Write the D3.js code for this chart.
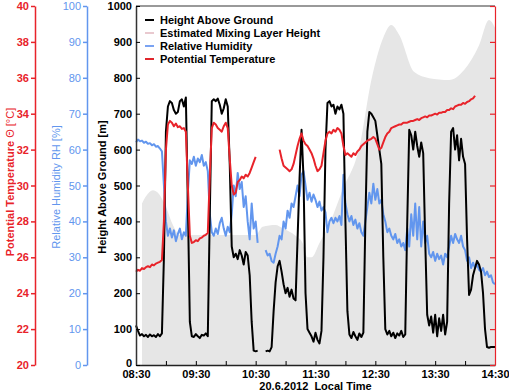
<!DOCTYPE html>
<html>
<head>
<meta charset="utf-8">
<script src="https://cdn.jsdelivr.net/npm/d3@7"></script>
<style>
body { margin: 0; background: #fff; }
text { font-family: "Liberation Sans", Arial, sans-serif; }
</style>
</head>
<body>
<svg id="chart"></svg>
<script>
// minutes after 08:30, one sample every 2 minutes
var stepMinutes = 2;

var heightAboveGround = [
    110, 95, 82, 86, 80, 84, 78, 85, 80, 83, 78, 86, 80, 88,
    300, 650, 720, 735, 730, 710, 700, 705, 735, 740, 720, 745,
    450, 120, 80, 78, 86, 80, 75, 84, 82, 88, 80,
    420, 735, 740, 735, 742, 725, 700, 715, 740, 720,
    560, 330, 300, 310, 295, 320, 305, 280, 315, 305,
    250, 120, 40, 38, 40, null, null, null, 38, 40, 38,
    50, 150, 230, 275, 290, 260, 225, 200, 215, 190, 210, 185, 180,
    350, 520, 655, 520, 200, 100,
    90, 80, 65, 90, 70, 60, 95,
    300, 600, 730, 735, 720, 725, 700, 720, 712, 725, 700,
    400, 150, 85, 75, 92, 80, 70, 88, 78, 90,
    400, 650, 705, 700, 690, 680, 640, 600, 560,
    300, 100, 85, 95, 80, 90, 75, 88, 82, 95, 78, 85,
    400, 655, 640, 600, 650, 610, 580, 620, 590,
    350, 140, 110, 135, 90, 140, 80, 130, 95, 140, 85, 120,
    450, 650, 660, 600, 640, 570, 630, 580, 560,
    350, 195, 210, 250, 270, 290, 280, 260,
    200, 100, 50, 48, 50, 50, 50
];

var relHumidity = [
    62, 62.8, 62.3, 62.5, 61.9, 62.2, 61.6, 61.8, 61.2, 61.5, 60.8, 61, 60.3, 59.5,
    50, 40, 36, 38, 35.5, 37.5, 34.5, 36.5, 38, 35, 37, 36,
    48, 57, 56, 58, 55.5, 57.5, 56.5, 58.5, 55.5, 56.5, 54,
    42, 37, 36, 38, 36.5, 39.5, 41, 38, 36, 38.5,
    37, 42, 50, 47, 53.5, 49, 51, 44, 47, 40,
    35, 45, 38, 40, 34, null, null, null, 32, 30.5, 31,
    29, 28.5, 31, 33, 36, 35, 40, 38, 43, 41, 45, 44, 47,
    50, 47, 53, 54, 50, 46,
    48, 45.5, 47.5, 46, 44, 45.5, 43,
    44, 42.5, 37, 40, 41, 39.5, 41, 40, 41.5, 39, 53,
    45, 42, 40, 41.5, 39, 40.5, 38, 39.5, 37, 36,
    40, 44, 48, 45, 50.5, 46, 49, 45, 46,
    42, 40, 37, 38, 36, 35, 36.5, 34, 35, 33, 34, 32,
    38, 33, 42, 36, 45, 35, 44, 33, 40,
    34, 36, 31, 30, 31.5, 29, 31, 29.5, 30.5, 28, 31, 30,
    33, 36, 34, 36.5, 35, 34, 36, 33, 32,
    29, 30, 27, 28.5, 27, 28, 26.5, 26,
    27, 25, 26, 24.5, 25, 23, 22.5
];

var potTemperature = [
    25.2, 25.3, 25.25, 25.4, 25.35, 25.45, 25.5, 25.45, 25.6, 25.55, 25.65, 25.7, 25.75, 25.85,
    28, 32, 33.4, 33.6, 33.5, 33.3, 33.45, 33.25, 33.3, 33.15, 33.2, 33.0,
    30, 27.2, 26.8, 26.85, 26.95, 26.9, 27.05, 27.1, 27.2, 27.25, 27.35,
    30.5, 33.2, 33.5, 33.4, 33.2, 33.1, 33.0, 33.3, 33.5, 33.2,
    31.5, 30, 29.5, 29.6, 30.2, 30.3, 30.5, 30.4, 30.6, 30.5,
    30.7, 31, 31.3, 31.6, null, null, null, null, null, null, null,
    null, null, null, null, 32, 31.5, 31.1, 31.0, 30.9, 30.8, 30.9, 31.2, 31.7,
    32.2, 32.6, 32.9, 32.5, 32.3, 32.2,
    32.0, 31.8, 31.5, 31.1, 30.8, 30.9, 31.1,
    31.8, 32.5, 32.9, 33.0, 32.9, 33.1, 33.0, 33.2, 33.1, 32.9, 32.2,
    31.7, 31.8, 31.7, 31.6, 31.8, 31.7, 31.9, 32.0, 32.2, 32.3,
    32.4, 32.5, 32.55, 32.6, 32.7, 32.6, 32.3, 32.0, 32.1,
    32.4, 32.7, 32.9, 33.0, 33.2, 33.25, 33.3, 33.35, 33.4, 33.4, 33.5, 33.5,
    33.5, 33.55, 33.6, 33.6, 33.65, 33.7, 33.65, 33.75, 33.8,
    33.85, 33.8, 33.9, 33.9, 33.95, 34.0, 33.95, 34.05, 34.05, 34.1, 34.1, 34.2,
    34.2, 34.3, 34.25, 34.4, 34.45, 34.5, 34.5, 34.6, 34.55,
    34.65, 34.7, 34.8, 34.85, 35.0, null, null, null,
    null, null, null, null, null, null, null
];

// estimated mixing layer height (minutes after 08:30, m)
var mixTime = [6, 10, 17, 22, 30, 37, 44, 60, 90, 120, 127, 140, 147, 160, 167, 172, 176, 184, 195, 207, 224, 236, 239, 247, 256, 264, 279, 294, 314, 329, 344, 354, 360];
var mixHeight = [450, 470, 487, 480, 440, 390, 362, 362, 362, 362, 385, 390, 381, 360, 340, 300, 300, 340, 400, 487, 607, 794, 830, 905, 947, 919, 816, 799, 794, 822, 891, 961, 940];

var timeTicks = [0, 30, 60, 90, 120, 150, 180, 210, 240, 270, 300, 330, 360];
var timeLabels = ["08:30", "", "09:30", "", "10:30", "", "11:30", "", "12:30", "", "13:30", "", "14:30"];
var heightTicks = [0, 100, 200, 300, 400, 500, 600, 700, 800, 900, 1000];
var rhTicks = [0, 10, 20, 30, 40, 50, 60, 70, 80, 90, 100];
var thetaTicks = [20, 22, 24, 26, 28, 30, 32, 34, 36, 38, 40];

var legendLabels = ["Height Above Ground", "Estimated Mixing Layer Height", "Relative Humidity", "Potential Temperature"];
var legendColors = ["#000000", "#e9c9cf", "#7aa3f2", "#e0262c"];

var red = "#e8232a", blue = "#6296ee";

var margin = {top: 6, right: 14, bottom: 27, left: 136},
    width = 509 - margin.left - margin.right,
    height = 392 - margin.top - margin.bottom;

var svg = d3.select("#chart")
    .attr("width", 509)
    .attr("height", 392);

var g = svg.append("g")
    .attr("transform", "translate(" + margin.left + "," + margin.top + ")");

var x = d3.scaleLinear().domain([0, 360]).range([0, width]);
var y = d3.scaleLinear().domain([0, 1000]).range([height, 0]);
var yRH = d3.scaleLinear().domain([0, 100]).range([height, 0]);
var yT = d3.scaleLinear().domain([20, 40]).range([height, 0]);

// mixing layer area
var mixData = mixTime.map(function(t, i) { return {t: t, v: mixHeight[i]}; });
g.append("path")
    .datum(mixData)
    .attr("fill", "#e6e6e6")
    .attr("d", d3.area()
        .curve(d3.curveMonotoneX)
        .x(function(d) { return x(d.t); })
        .y0(height)
        .y1(function(d) { return y(d.v); }));

// top frame line
g.append("line")
    .attr("x1", 0).attr("x2", width)
    .attr("y1", 0).attr("y2", 0)
    .attr("stroke", "#999").attr("stroke-width", 2);

function series(values) {
    return values.map(function(v, i) { return {t: i * stepMinutes, v: v}; });
}

function drawLine(values, scale, color) {
    g.append("path")
        .datum(series(values))
        .attr("fill", "none")
        .attr("stroke", color)
        .attr("stroke-width", 2)
        .attr("stroke-linejoin", "round")
        .attr("d", d3.line()
            .defined(function(d) { return d.v != null; })
            .x(function(d) { return x(d.t); })
            .y(function(d) { return scale(d.v); }));
}

drawLine(relHumidity, yRH, blue);
drawLine(heightAboveGround, y, "#000");
drawLine(potTemperature, yT, red);

// x axis
var xAxis = g.append("g")
    .attr("transform", "translate(0," + height + ")")
    .call(d3.axisBottom(x)
        .tickValues(timeTicks)
        .tickFormat(function(d, i) { return timeLabels[i]; })
        .tickSizeInner(-4).tickSizeOuter(0).tickPadding(5));
xAxis.select(".domain").attr("stroke", "#222").attr("stroke-width", 1.5);
xAxis.selectAll("text").attr("font-size", "11px").attr("font-weight", "bold").attr("fill", "#000");

g.append("text")
    .attr("x", width / 2)
    .attr("y", height + 25)
    .attr("text-anchor", "middle")
    .attr("font-size", "11px")
    .attr("font-weight", "bold")
    .style("white-space", "pre")
    .text("20.6.2012  Local Time");

// height axis (inside ticks)
var hAxis = g.append("g")
    .call(d3.axisLeft(y)
        .tickValues(heightTicks)
        .tickFormat(d3.format("d"))
        .tickSizeInner(-4).tickSizeOuter(0).tickPadding(4));
hAxis.select(".domain").attr("stroke", "#333").attr("stroke-width", 1.5);
hAxis.selectAll("text").attr("font-size", "11px").attr("font-weight", "bold").attr("fill", "#000");
// lift the zero label a little so it clears the 08:30 label
hAxis.selectAll(".tick").filter(function(d) { return d === 0; })
    .select("text").attr("dy", "0.1em");

// right red axis
var rAxis = g.append("g")
    .attr("transform", "translate(" + width + ",0)")
    .call(d3.axisRight(y)
        .tickValues(heightTicks)
        .tickFormat("")
        .tickSizeInner(-5).tickSizeOuter(0));
rAxis.selectAll("path, line").attr("stroke", red).attr("stroke-width", 1.2);

// RH axis
var rhAxis = svg.append("g")
    .attr("transform", "translate(87," + margin.top + ")")
    .call(d3.axisLeft(yRH)
        .tickValues(rhTicks)
        .tickSizeInner(4).tickSizeOuter(0).tickPadding(2));
rhAxis.selectAll("path, line").attr("stroke", blue).attr("stroke-width", 1.5);
rhAxis.selectAll("text").attr("font-size", "11px").attr("fill", blue);

// theta axis
var tAxis = svg.append("g")
    .attr("transform", "translate(35," + margin.top + ")")
    .call(d3.axisLeft(yT)
        .tickValues(thetaTicks)
        .tickSizeInner(4).tickSizeOuter(0).tickPadding(2));
tAxis.selectAll("path, line").attr("stroke", red).attr("stroke-width", 1.5);
tAxis.selectAll("text").attr("font-size", "11px").attr("font-weight", "bold").attr("fill", red);

// axis titles
var tTitle = svg.append("text")
    .attr("transform", "translate(14,182) rotate(-90)")
    .attr("text-anchor", "middle")
    .attr("font-size", "11px")
    .attr("fill", red);
tTitle.append("tspan").attr("font-weight", "bold").text("Potential Temperature ");
tTitle.append("tspan").text("\u0398 [\u00b0C]");

svg.append("text")
    .attr("transform", "translate(59.5,187) rotate(-90)")
    .attr("text-anchor", "middle")
    .attr("font-size", "11px")
    .attr("fill", blue)
    .text("Relative Humidity RH [%]");

svg.append("text")
    .attr("transform", "translate(106,187) rotate(-90)")
    .attr("text-anchor", "middle")
    .attr("font-size", "11px")
    .attr("font-weight", "bold")
    .attr("fill", "#000")
    .text("Height Above Ground [m]");

// legend
var legend = svg.append("g").attr("transform", "translate(145,20)");
legendLabels.forEach(function(label, i) {
    legend.append("line")
        .attr("x1", 0).attr("x2", 9)
        .attr("y1", i * 13).attr("y2", i * 13)
        .attr("stroke", legendColors[i])
        .attr("stroke-width", 2);
    legend.append("text")
        .attr("x", 15)
        .attr("y", i * 13 + 4)
        .attr("font-size", "11px")
        .attr("font-weight", "bold")
        .text(label);
});
</script>
</body>
</html>
